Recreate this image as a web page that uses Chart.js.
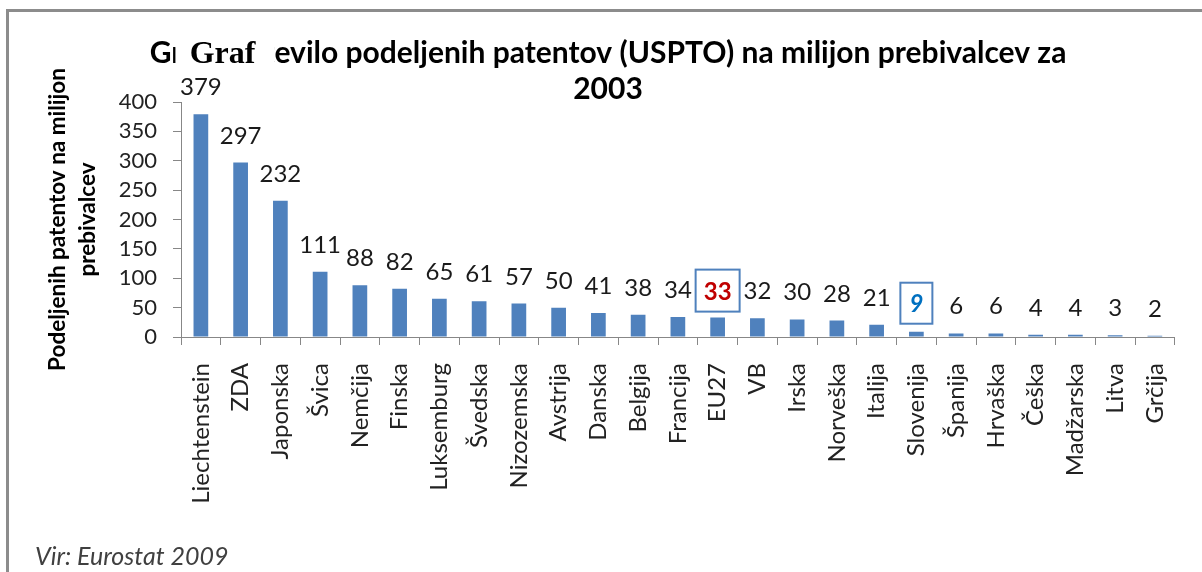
<!DOCTYPE html>
<html>
<head>
<meta charset="utf-8">
<script src="https://cdn.jsdelivr.net/npm/chart.js@4.4.0/dist/chart.umd.min.js"></script>
<style>
    body { margin: 0; background: #fff; }
    #wrap { position: relative; width: 1202px; height: 572px; overflow: hidden; background: #fff; }
    #frame { position: absolute; left: 6px; top: 9px; width: 1400px; height: 800px;
             border-top: 3px solid #8c8c8c; border-left: 3px solid #8c8c8c; }
    #chart { position: absolute; left: 0; top: 0; }
    #source { position: absolute; left: 35px; top: 543px; font: italic 25px Lato, sans-serif; line-height: 1; color: #404040; }
</style>
</head>
<body>
<div id="wrap">
    <div id="frame"></div>
    <canvas id="chart" width="1202" height="572"></canvas>
    <div id="source">Vir: Eurostat 2009</div>
</div>
<script>
// Data
const countries = ['Liechtenstein', 'ZDA', 'Japonska', 'Švica', 'Nemčija', 'Finska', 'Luksemburg',
    'Švedska', 'Nizozemska', 'Avstrija', 'Danska', 'Belgija', 'Francija', 'EU27', 'VB', 'Irska',
    'Norveška', 'Italija', 'Slovenija', 'Španija', 'Hrvaška', 'Češka', 'Madžarska', 'Litva', 'Grčija'];
const patents = [379, 297, 232, 111, 88, 82, 65, 61, 57, 50, 41, 38, 34, 33, 32, 30, 28, 21, 9, 6, 6, 4, 4, 3, 2];
const yTicks = [0, 50, 100, 150, 200, 250, 300, 350, 400];
const titleLines = ['Graf 1: Število podeljenih patentov (USPTO) na milijon prebivalcev za', '2003'];
const yTitleLines = ['Podeljenih patentov na milijon', 'prebivalcev'];

const BAR = '#4f81bd';
const AXIS = '#878787';
const TITLE_FONT = '700 30px Lato';

// value labels above bars, EU27 and Slovenija boxed
const valueLabels = {
    id: 'valueLabels',
    afterDatasetsDraw(chart) {
        const ctx = chart.ctx;
        const meta = chart.getDatasetMeta(0);
        ctx.save();
        ctx.textAlign = 'center';
        ctx.textBaseline = 'alphabetic';
        meta.data.forEach((bar, i) => {
            const name = countries[i];
            const txt = String(patents[i]);
            if (name === 'EU27') {
                ctx.strokeStyle = BAR;
                ctx.lineWidth = 2;
                ctx.strokeRect(bar.x - 22, bar.y - 48, 44, 42);
                ctx.fillStyle = '#c00000';
                ctx.font = 'bold 24px Lato';
                ctx.fillText(txt, bar.x, bar.y - 18);
            } else if (name === 'Slovenija') {
                ctx.strokeStyle = BAR;
                ctx.lineWidth = 2;
                ctx.strokeRect(bar.x - 16, bar.y - 49, 32, 41);
                ctx.fillStyle = '#0070c0';
                ctx.font = 'italic bold 24px Lato';
                ctx.fillText(txt, bar.x, bar.y - 20);
            } else {
                ctx.fillStyle = '#1a1a1a';
                ctx.font = '24px Lato';
                ctx.fillText(txt, bar.x, bar.y - 19);
            }
        });
        ctx.restore();
    }
};

// the serif "Graf" patch pasted over the start of the title
const titlePatch = {
    id: 'titlePatch',
    afterDraw(chart) {
        const ctx = chart.ctx;
        const tb = chart.titleBlock;
        ctx.save();
        ctx.font = TITLE_FONT;
        const w = ctx.measureText(titleLines[0]).width;
        const cx = (tb.left + tb.right) / 2;
        const left = cx - w / 2;
        const midY = tb.top + 35 + 18;
        const x0 = left + ctx.measureText('G').width + 4;
        const x1 = left + ctx.measureText('Graf 1: Št').width;
        ctx.fillStyle = '#fff';
        ctx.fillRect(x0, midY - 20, x1 - x0, 40);
        ctx.fillStyle = '#000';
        ctx.font = 'bold 32px "Liberation Serif"';
        ctx.textBaseline = 'alphabetic';
        ctx.textAlign = 'left';
        ctx.fillText('Graf', left + 40, midY + 10);
        ctx.restore();
    }
};

new Chart(document.getElementById('chart'), {
    type: 'bar',
    data: {
        labels: countries,
        datasets: [{
            data: patents,
            backgroundColor: BAR,
            categoryPercentage: 1,
            barPercentage: 0.37
        }]
    },
    options: {
        responsive: false,
        animation: false,
        layout: { padding: { left: 30, right: 16, top: 0, bottom: 0 } },
        plugins: {
            legend: { display: false },
            tooltip: { enabled: false },
            title: {
                display: true,
                text: titleLines,
                color: '#000',
                font: { family: 'Lato', size: 30, weight: '700', lineHeight: '36px' },
                padding: { top: 35, bottom: -5 }
            }
        },
        scales: {
            x: {
                grid: { drawOnChartArea: false, tickLength: 8, color: AXIS, offset: true },
                border: { color: AXIS, width: 1 },
                ticks: {
                    autoSkip: false, maxRotation: 90, minRotation: 90, padding: 18,
                    color: '#222', font: { family: 'Lato', size: 24 }
                },
                afterFit(scale) { scale.height = 572 - 337; }
            },
            y: {
                min: 0,
                max: 400,
                afterBuildTicks(scale) { scale.ticks = yTicks.map(v => ({ value: v })); },
                grid: { drawOnChartArea: false, tickLength: 8, color: AXIS },
                border: { color: AXIS, width: 1 },
                ticks: { autoSkip: false, padding: 16, color: '#222', font: { family: 'Lato', size: 22 } },
                title: {
                    display: true,
                    text: yTitleLines,
                    color: '#000',
                    font: { family: 'Lato', size: 22.5, weight: '700', lineHeight: '30px' },
                    padding: { top: 13, bottom: 0 }
                },
                afterFit(scale) { scale.width = 181 - 30; }
            }
        }
    },
    plugins: [valueLabels, titlePatch]
});
</script>
</body>
</html>
